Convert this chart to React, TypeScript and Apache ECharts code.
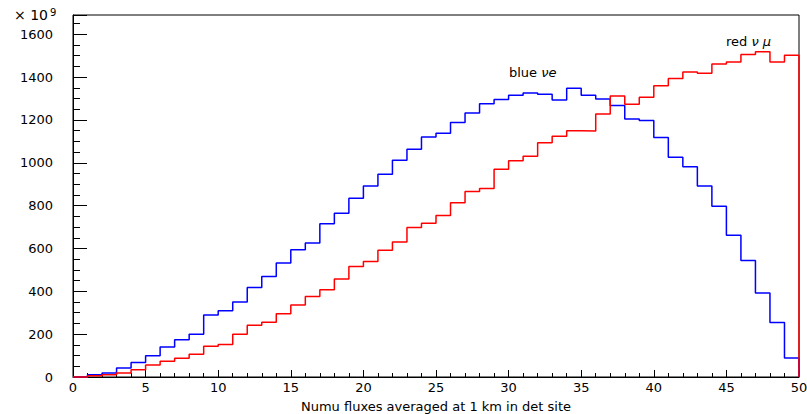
import React, { useEffect, useRef } from "react";
import * as echarts from "echarts";

// Histogram contents, one value per unit bin from 0 to 50 (units of 1e9)
const blueFlux = [
  0, 10, 19, 42, 68, 99, 140, 174, 199, 289,
  309, 350, 418, 469, 532, 594, 625, 715, 765, 835,
  892, 947, 1012, 1063, 1121, 1138, 1188, 1233, 1276, 1295,
  1315, 1326, 1320, 1293, 1348, 1315, 1298, 1267, 1205, 1197,
  1118, 1026, 982, 892, 797, 662, 544, 392, 255, 89,
];
const redFlux = [
  0, 6, 11, 19, 34, 56, 73, 88, 106, 143,
  152, 199, 242, 256, 295, 336, 376, 407, 458, 516,
  539, 592, 630, 698, 718, 754, 814, 866, 880, 970,
  1010, 1031, 1094, 1124, 1150, 1148, 1228, 1312, 1273, 1306,
  1360, 1393, 1424, 1418, 1461, 1471, 1506, 1519, 1471, 1502,
];
const xRange = [0, 50];
const yRange = [0, 1690];
const xTitle = "Numu fluxes averaged at 1 km in det site";

function histPoints(vals: number[]) {
  const pts: number[][] = vals.map((v, i) => [xRange[0] + i, v]);
  pts.push([xRange[0] + vals.length, vals[vals.length - 1]]);
  pts.push([xRange[0] + vals.length, 0]);
  return pts;
}

const FONT = "DejaVu Sans";

export default function App() {
  const ref = useRef<HTMLDivElement>(null);
  useEffect(() => {
    if (!ref.current) return;
    const chart = echarts.init(ref.current, undefined, { renderer: "svg" });
    chart.setOption({
      animation: false,
      backgroundColor: "#ffffff",
      grid: {
        left: 73,
        right: 8,
        top: 15,
        bottom: 37,
        outerBoundsMode: "none",
        containLabel: false,
        show: true,
        borderColor: "#000",
        borderWidth: 1,
        backgroundColor: "transparent",
      },
      xAxis: {
        type: "value",
        min: xRange[0],
        max: xRange[1],
        interval: 5,
        axisLine: { lineStyle: { color: "#000", width: 1 } },
        axisTick: { inside: true, length: 7, lineStyle: { color: "#000" } },
        minorTick: { show: true, splitNumber: 5, length: 4, lineStyle: { color: "#000" } },
        splitLine: { show: false },
        minorSplitLine: { show: false },
        axisLabel: {
          color: "#000",
          fontSize: 13,
          fontFamily: FONT,
          margin: 4,
          formatter: (v: number) => String(v),
        },
        name: xTitle,
        nameLocation: "middle",
        nameGap: 23,
        nameTextStyle: { color: "#000", fontSize: 13, fontFamily: FONT },
      },
      yAxis: {
        type: "value",
        min: yRange[0],
        max: yRange[1],
        interval: 200,
        axisLine: { lineStyle: { color: "#000", width: 1 } },
        axisTick: { inside: true, length: 14, lineStyle: { color: "#000" } },
        minorTick: { show: true, splitNumber: 4, length: 7, lineStyle: { color: "#000" } },
        splitLine: { show: false },
        minorSplitLine: { show: false },
        axisLabel: {
          color: "#000",
          fontSize: 13,
          fontFamily: FONT,
          margin: 20,
          showMaxLabel: false,
          formatter: (v: number) => String(v),
        },
      },
      graphic: [
        {
          type: "text",
          left: 14,
          top: 7,
          style: {
            text: "× 10{sup|9}",
            fill: "#000",
            font: `14px "${FONT}"`,
            rich: { sup: { fontSize: 10, fontFamily: FONT, verticalAlign: "top", padding: [0, 0, 6, 2] } },
          },
        },
        {
          type: "text",
          left: 509,
          top: 66,
          style: {
            text: "blue {it|νe}",
            fill: "#000",
            font: `13px "${FONT}"`,
            rich: { it: { fontStyle: "italic", fontSize: 13, fontFamily: FONT } },
          },
        },
        {
          type: "text",
          left: 726,
          top: 35,
          style: {
            text: "red {it|ν μ}",
            fill: "#000",
            font: `13px "${FONT}"`,
            rich: { it: { fontStyle: "italic", fontSize: 13, fontFamily: FONT } },
          },
        },
      ],
      series: [
        {
          name: "blue",
          type: "line",
          step: "end",
          symbol: "none",
          clip: false,
          lineStyle: { color: "#0000ff", width: 1.5 },
          data: histPoints(blueFlux),
          z: 3,
        },
        {
          name: "red",
          type: "line",
          step: "end",
          symbol: "none",
          clip: false,
          lineStyle: { color: "#ff0000", width: 1.5 },
          data: histPoints(redFlux),
          z: 4,
        },
      ],
    });
    return () => chart.dispose();
  }, []);
  return (
    <div
      ref={ref}
      style={{ position: "absolute", left: 0, top: 0, width: 807, height: 414 }}
    />
  );
}
